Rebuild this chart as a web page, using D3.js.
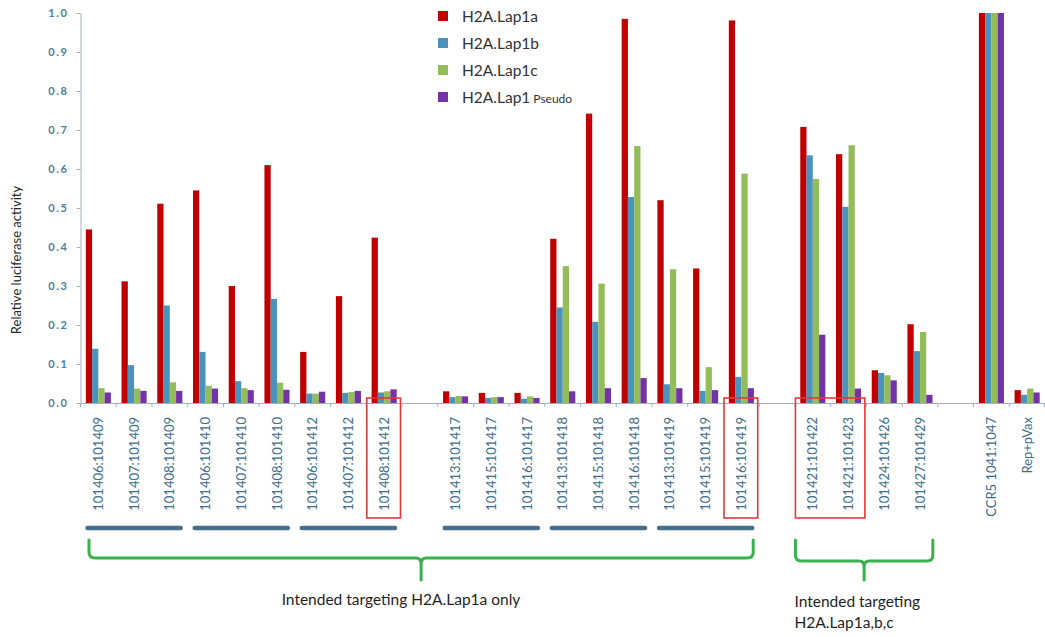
<!DOCTYPE html>
<html>
<head>
<meta charset="utf-8">
<script src="https://cdn.jsdelivr.net/npm/d3@7"></script>
<style>
  html, body { margin: 0; padding: 0; background: #fff; }
  svg { display: block; font-family: Lato, "Open Sans", sans-serif; }
</style>
</head>
<body>
<svg id="chart" width="1045" height="637"></svg>
<script>
// Construct pairs (empty strings are spacer slots between groups)
const categories = [
  "101406:101409", "101407:101409", "101408:101409",
  "101406:101410", "101407:101410", "101408:101410",
  "101406:101412", "101407:101412", "101408:101412",
  "",
  "101413:101417", "101415:101417", "101416:101417",
  "101413:101418", "101415:101418", "101416:101418",
  "101413:101419", "101415:101419", "101416:101419",
  "",
  "101421:101422", "101421:101423", "101424:101426", "101427:101429",
  "",
  "CCR5 1041:1047", "Rep+pVax"
];

// Relative luciferase activity per reporter
const lap1a  = [0.445, 0.312, 0.511, 0.545, 0.300, 0.610, 0.131, 0.274, 0.424, null,
                0.030, 0.026, 0.026, 0.421, 0.742, 0.985, 0.520, 0.345, 0.981, null,
                0.708, 0.638, 0.084, 0.202, null, 1.0, 0.033];
const lap1b  = [0.139, 0.097, 0.250, 0.131, 0.056, 0.267, 0.024, 0.026, 0.027, null,
                0.015, 0.013, 0.011, 0.245, 0.208, 0.528, 0.048, 0.031, 0.067, null,
                0.635, 0.503, 0.077, 0.133, null, 1.0, 0.021];
const lap1c  = [0.038, 0.037, 0.053, 0.044, 0.038, 0.052, 0.024, 0.028, 0.030, null,
                0.018, 0.015, 0.017, 0.351, 0.306, 0.659, 0.343, 0.092, 0.588, null,
                0.574, 0.661, 0.071, 0.182, null, 1.0, 0.037];
const pseudo = [0.027, 0.031, 0.031, 0.037, 0.033, 0.034, 0.029, 0.031, 0.035, null,
                0.017, 0.015, 0.013, 0.030, 0.038, 0.064, 0.038, 0.033, 0.038, null,
                0.175, 0.037, 0.058, 0.021, null, 1.0, 0.027];

const seriesNames = ["H2A.Lap1a", "H2A.Lap1b", "H2A.Lap1c", "H2A.Lap1 Pseudo"];
const seriesValues = [lap1a, lap1b, lap1c, pseudo];
const seriesColors = ["#c00000", "#4b93bc", "#93bd58", "#7333a6"];

const yTicks = [0, 0.1, 0.2, 0.3, 0.4, 0.5, 0.6, 0.7, 0.8, 0.9, 1.0];

// Sub-groups underlined below the labels (first and last category index)
const underlineGroups = [[0, 2], [3, 5], [6, 8], [10, 12], [13, 15], [16, 18]];
// Highlighted constructs (first and last category index)
const highlightBoxes = [[8, 8], [18, 18], [20, 21]];
// Braces with their captions
const braces = [
  { from: 0, to: 18, lines: ["Intended targeting H2A.Lap1a only"] },
  { from: 20, to: 23, lines: ["Intended targeting", "H2A.Lap1a,b,c"] }
];

const svg = d3.select("#chart");
const axisTop = 13, axisBottom = 403, axisLeft = 80.5, axisRight = 1045;

const keys = categories.map((_, i) => i);
const x0 = d3.scaleBand().domain(keys).range([axisLeft, axisRight]).paddingInner(0).paddingOuter(0);
const x1 = d3.scaleBand().domain(d3.range(seriesNames.length))
  .range([0, x0.bandwidth()]).paddingInner(0).paddingOuter(0.85);
const y = d3.scaleLinear().domain([0, 1]).range([axisBottom, axisTop]);

const axisColor = "#a3b1bd";

// Bars
const rows = keys.map(i => ({ i, vals: seriesValues.map(s => s[i]) }));
const groups = svg.append("g").selectAll("g").data(rows).join("g")
  .attr("transform", d => `translate(${x0(d.i)},0)`);
groups.selectAll("rect")
  .data(d => d.vals.map((v, k) => ({ k, v })).filter(e => e.v != null))
  .join("rect")
  .attr("x", e => x1(e.k))
  .attr("width", x1.bandwidth())
  .attr("y", e => y(e.v))
  .attr("height", e => y(0) - y(e.v))
  .attr("fill", e => seriesColors[e.k]);

// Y axis
const yAxis = svg.append("g")
  .attr("transform", `translate(${axisLeft},0)`)
  .call(d3.axisLeft(y).tickValues(yTicks).tickFormat(d3.format(".1f")).tickSizeInner(4).tickSizeOuter(0).tickPadding(8));
yAxis.select(".domain").attr("stroke", axisColor);
yAxis.selectAll(".tick line").attr("stroke", axisColor);
yAxis.selectAll("text")
  .attr("fill", "#4a7fa1").attr("font-size", 11).attr("font-weight", "bold")
  .attr("letter-spacing", "1.6px").attr("font-family", "Lato, sans-serif");

// X axis with rotated category labels
const xAxis = svg.append("g")
  .attr("transform", `translate(0,${axisBottom})`)
  .call(d3.axisBottom(x0).tickFormat(i => categories[i]).tickSize(0).tickSizeOuter(0));
xAxis.select(".domain").attr("stroke", axisColor);
xAxis.selectAll("text")
  .attr("transform", "rotate(-90)")
  .attr("text-anchor", "end")
  .attr("x", -14).attr("y", 0).attr("dy", "0.35em")
  .attr("fill", "#3e6d8e").attr("font-size", 13).attr("font-family", "Lato, sans-serif");
// Tick marks between categories
xAxis.append("g").selectAll("line")
  .data(keys.map(i => x0(i)).concat([axisRight - 0.5]))
  .join("line")
  .attr("x1", d => d).attr("x2", d => d)
  .attr("y1", 0).attr("y2", 4)
  .attr("stroke", axisColor);

// Y axis title
svg.append("text")
  .attr("transform", "translate(21,260) rotate(-90)")
  .attr("text-anchor", "middle")
  .attr("font-size", 13).attr("fill", "#262626")
  .text("Relative luciferase activity");

// Legend
const legend = svg.append("g");
seriesNames.forEach((name, k) => {
  const ly = 16 + k * 27;
  legend.append("rect").attr("x", 438).attr("y", ly - 5).attr("width", 10).attr("height", 10)
    .attr("fill", seriesColors[k]);
  const t = legend.append("text").attr("x", 462).attr("y", ly).attr("dy", "0.36em")
    .attr("font-size", 15.5).attr("fill", "#333");
  if (name.endsWith(" Pseudo")) {
    t.append("tspan").text(name.replace(" Pseudo", ""));
    t.append("tspan").attr("font-size", 12).attr("dx", 3).text("Pseudo");
  } else {
    t.text(name);
  }
});

// Highlight boxes
svg.append("g").selectAll("rect").data(highlightBoxes).join("rect")
  .attr("x", d => x0(d[0]) + 0.5)
  .attr("y", axisBottom - 5)
  .attr("width", d => x0(d[1]) + x0.bandwidth() - x0(d[0]) - 2)
  .attr("height", 120)
  .attr("fill", "none").attr("stroke", "#e2393b").attr("stroke-width", 1.6);

// Underlines for sub-groups
svg.append("g").selectAll("line").data(underlineGroups).join("line")
  .attr("x1", d => x0(d[0]) + 7)
  .attr("x2", d => x0(d[1]) + x0.bandwidth() - 7)
  .attr("y1", 528).attr("y2", 528)
  .attr("stroke", "#456f8c").attr("stroke-width", 4.5).attr("stroke-linecap", "round");

// Braces
braces.forEach((b, bi) => {
  const inset = bi === 0 ? [8.5, 6] : [0.5, 5];
  const xl = x0(b.from) + inset[0];
  const xr = x0(b.to) + x0.bandwidth() - inset[1];
  const xm = (xl + xr) / 2;
  const top = 540, hy = bi === 0 ? 558 : 561, tip = 580, r = 6;
  const p = d3.path();
  p.moveTo(xl, top); p.lineTo(xl, hy - r);
  p.quadraticCurveTo(xl, hy, xl + r, hy);
  p.lineTo(xm - 5, hy);
  p.quadraticCurveTo(xm, hy, xm, hy + 6);
  p.lineTo(xm, tip);
  p.moveTo(xm, hy + 6);
  p.quadraticCurveTo(xm, hy, xm + 5, hy);
  p.lineTo(xr - r, hy);
  p.quadraticCurveTo(xr, hy, xr, hy - r);
  p.lineTo(xr, top);
  svg.append("path").attr("d", p.toString())
    .attr("fill", "none").attr("stroke", "#3bb04f").attr("stroke-width", 3)
    .attr("stroke-linecap", "round").attr("stroke-linejoin", "round");

  const cap = svg.append("text").attr("font-size", 15.5).attr("fill", "#1f1f1f");
  if (b.lines.length === 1) {
    cap.attr("x", 401).attr("y", 605).attr("text-anchor", "middle").text(b.lines[0]);
  } else {
    b.lines.forEach((line, li) => {
      cap.append("tspan").attr("x", xl - 1).attr("y", 607 + li * 21).text(line);
    });
  }
});
</script>
</body>
</html>
